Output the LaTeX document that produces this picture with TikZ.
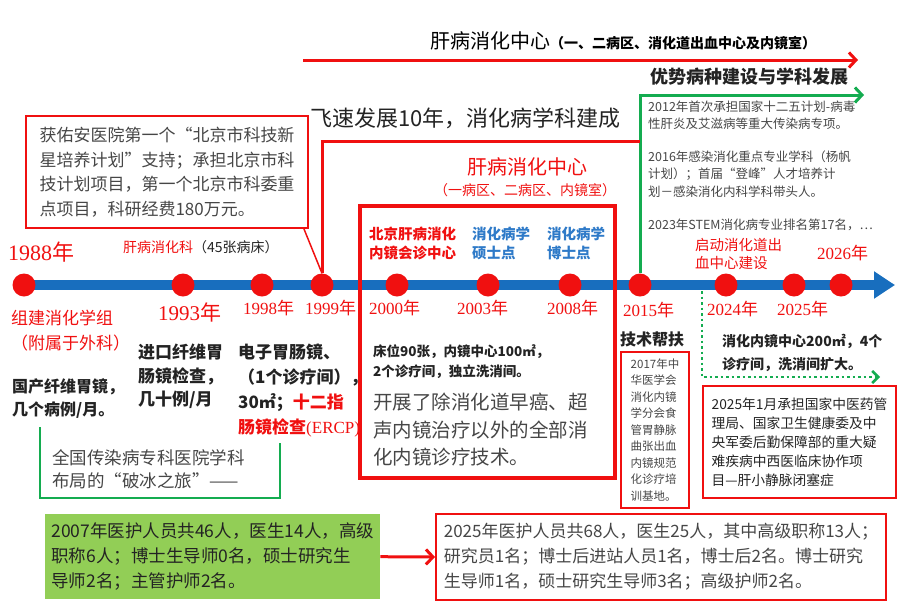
\documentclass[tikz,border=0pt]{standalone}
\usepackage{fontspec}
\setmainfont{Noto Sans CJK SC}
\newfontfamily\lser{Liberation Serif}
\usetikzlibrary{arrows.meta}
\definecolor{rd}{RGB}{240,16,16}
\definecolor{tl}{RGB}{24,110,190}
\definecolor{gn}{RGB}{20,172,80}
\definecolor{lg}{RGB}{146,206,86}
\definecolor{bl}{RGB}{46,122,200}
\definecolor{gy}{RGB}{70,70,70}
\definecolor{dk}{RGB}{35,35,35}
\newcommand\fs[2]{\fontsize{#1pt}{#2pt}\selectfont}
\newcommand\yr[1]{{\lser #1}年}
\begin{document}
\begin{tikzpicture}[x=1pt,y=-1pt,
  lbl/.style={inner sep=0pt,anchor=west},
  blk/.style={inner sep=0pt,anchor=north west,align=left},
  yrlab/.style={inner sep=0pt,anchor=west,text=rd},
  dot/.style={circle,fill=rd,inner sep=0pt,minimum width=23pt},
  boxr/.style={draw=rd,line width=2pt,inner sep=0pt,anchor=north west,align=left},
  barb/.style={-{Straight Barb[length=7pt,width=15pt]}}]
\useasboundingbox (0,0) rectangle (900,603);

% ---------- top red arrow and title
\node[lbl] (title) at (430,41) {\fs{20}{24}肝病消化中心\fs{14}{16}\bfseries （一、二病区、消化道出血中心及内镜室）};
\coordinate (ra1) at (303,60);
\coordinate (ra2) at (858,60);
\draw[rd,line width=3pt,barb] (ra1) -- (ra2);

\node[lbl,font=\fs{18}{22}\bfseries,text=dk] (adv) at (650,77) {优势病种建设与学科发展};

% ---------- timeline
\coordinate (ts) at (24,285);
\coordinate (te) at (895,285);
\draw[tl,line width=10pt,-{Triangle[length=21pt,width=26pt]}] (ts) -- (te);

\node[dot] (d1988) at (24,285) {};
\node[dot] (d1993) at (183,285) {};
\node[dot] (d1998) at (262,285) {};
\node[dot] (d1999) at (322,285) {};
\node[dot] (d2000) at (397,285) {};
\node[dot] (d2003) at (488,285) {};
\node[dot] (d2008) at (570,285) {};
\node[dot] (d2015) at (640,285) {};
\node[dot] (d2024) at (726,285) {};
\node[dot] (d2025) at (794,285) {};
\node[dot] (d2026) at (841,285) {};

% ---------- connectors above timeline
\coordinate (gtop) at (864,95);
\draw[gn,line width=3pt,barb] (d2015.north) |- (gtop);
\coordinate (rc) at (322,141);
\draw[rd,line width=3pt] (d1999.north) -- (rc) -- (d2015.north |- rc);

\node[lbl,font=\fs{22}{26},text=dk] (fast) at (310,118) {飞速发展10年，消化病学科建成};

% ---------- callout box
\node[boxr,minimum width=282pt,minimum height=112pt,font=\fs{17}{24.5},text=gy,align=left] (cb) at (25,115)
 {获佑安医院第一个“北京市科技新\\星培养计划”支持；承担北京市科\\技计划项目，第一个北京市科委重\\点项目，科研经费180万元。};
\draw[rd,line width=1.5pt] ([xshift=-5pt]cb.south east) -- (d1999.north);

% ---------- year labels
\node[yrlab,font=\fs{22}{26}] (y1988) at (8,252) {\yr{1988}};
\node[yrlab,font=\fs{21}{25}] (y1993) at (158,312) {\yr{1993}};
\node[yrlab,font=\fs{17}{20}] (y1998) at (243,308) {\yr{1998}};
\node[yrlab,font=\fs{17}{20}] (y1999) at (305,308) {\yr{1999}};
\node[yrlab,font=\fs{17}{20}] (y2000) at (369,308) {\yr{2000}};
\node[yrlab,font=\fs{17}{20}] (y2003) at (457,308) {\yr{2003}};
\node[yrlab,font=\fs{17}{20}] (y2008) at (547,308) {\yr{2008}};
\node[yrlab,font=\fs{17}{20}] (y2015) at (623,310) {\yr{2015}};
\node[yrlab,font=\fs{17}{20}] (y2024) at (707,309) {\yr{2024}};
\node[yrlab,font=\fs{17}{20}] (y2025) at (777,309) {\yr{2025}};
\node[yrlab,font=\fs{17}{20}] (y2026) at (817,253) {\yr{2026}};

% ---------- left labels
\node[lbl,font=\fs{14}{17}] (dept) at (123,247) {\textcolor{rd}{肝病消化科}\textcolor{dk}{（45张病床）}};
\node[blk,font=\fs{17}{25},text=rd] (grp) at (11,310) {组建消化学组\\（附属于外科）};
\node[blk,font=\fs{16}{23}\bfseries,text=dk] (l88) at (12,378) {国产纤维胃镜，\\几个病例/月。};
\node[blk,font=\fs{17}{23.5}\bfseries,text=dk] (l93) at (138,344) {进口纤维胃\\肠镜检查，\\几十例/月};
\node[blk,font=\fs{17}{25}\bfseries,text=dk] (l98) at (238,344) {电子胃肠镜、\\（1个诊疗间），\\30㎡；\textcolor{rd}{十二指}\\\textcolor{rd}{肠镜检查{\lser\mdseries (ERCP)}}};

% ---------- green bracket
\coordinate (gb1) at (40,427);
\coordinate (gb2) at (280,443);
\coordinate (gbb) at (0,498);
\draw[gn,line width=2pt] (gb1) -- (gb1 |- gbb) -- (gb2 |- gbb) -- (gb2);
\node[blk,font=\fs{17.5}{23},text=gy] (ice) at (52,449) {全国传染病专科医院学科\\布局的“破冰之旅”——};

% ---------- bottom boxes
\node[fill=lg,inner sep=0pt,minimum width=335pt,minimum height=85pt,anchor=north west,align=left,font=\fs{17.5}{25},text=dk] (gbox) at (45,514)
 {2007年医护人员共46人，医生14人，高级\\职称6人；博士生导师0名，硕士研究生\\导师2名；主管护师2名。};
\node[boxr,minimum width=450pt,minimum height=86pt,font=\fs{17}{25},text=gy] (rbox) at (435,513)
 {2025年医护人员共68人，医生25人，其中高级职称13人；\\研究员1名；博士后进站人员1名，博士后2名。博士研究\\生导师1名，硕士研究生导师3名；高级护师2名。};
\draw[rd,line width=3pt,barb] (gbox.east) -- (rbox.west);

% ---------- big red box
\node[lbl,anchor=center,font=\fs{20}{24},text=rd] (ctr) at (527,167) {肝病消化中心};
\node[lbl,anchor=center,font=\fs{14}{17},text=rd] (ctr2) at (525,190) {（一病区、二病区、内镜室）};
\node[draw=rd,line width=4pt,inner sep=0pt,minimum width=255pt,minimum height=272pt,anchor=north west] (big) at (358,204) {};
\node[blk,font=\fs{14.5}{19}\bfseries,text=rd] (bj) at (369,226.5) {北京肝病消化\\内镜会诊中心};
\node[blk,font=\fs{14.5}{19}\bfseries,text=bl] (ms) at (472,226.5) {消化病学\\硕士点};
\node[blk,font=\fs{14.5}{19}\bfseries,text=bl] (phd) at (547,226.5) {消化病学\\博士点};
\node[blk,font=\fs{13.5}{20}\bfseries,text=dk] (bed) at (373,344) {床位90张，内镜中心100㎡，\\2个诊疗间，独立洗消间。};
\node[blk,font=\fs{19.5}{27.5},text=gy] (tech) at (373,393) {开展了除消化道早癌、超\\声内镜治疗以外的全部消\\化内镜诊疗技术。};

% ---------- right green region texts
\node[blk,font=\fs{12.5}{17.5},text=gy] (g12) at (648,100.5) {2012年首次承担国家十二五计划-病毒\\性肝炎及艾滋病等重大传染病专项。};
\node[blk,font=\fs{12.5}{17.5},text=gy] (g16) at (648,150.5) {2016年感染消化重点专业学科（杨帆\\计划）；首届“登峰”人才培养计\\划－感染消化内科学科带头人。};
\node[blk,font=\fs{12.5}{17.5},text=gy] (g23) at (648,218.5) {2023年STEM消化病专业排名第17名，…};

% ---------- 2015 tech support
\node[lbl,font=\fs{16}{20}\bfseries,text=dk] (help) at (620,339) {技术帮扶};
\node[boxr,minimum width=68pt,minimum height=156pt,font=\fs{11.5}{16.5},text=gy] (nbox) at (620,351)
 {2017年中\\华医学会\\消化内镜\\学分会食\\管胃静脉\\曲张出血\\内镜规范\\化诊疗培\\训基地。};

% ---------- 2024 region
\node[blk,font=\fs{14.5}{18},text=rd] (bleed) at (695,238.5) {启动消化道出\\血中心建设};
\node[blk,font=\fs{14}{23}\bfseries,text=dk] (endo) at (722,333.7) {消化内镜中心200㎡，4个\\诊疗间，洗消间扩大。};
\coordinate (gd0) at (702,291);
\coordinate (gd1) at (880,377);
\draw[gn,line width=2.5pt,dash pattern=on 2.5pt off 3pt,-{Straight Barb[length=6pt,width=12pt]}] (gd0) |- (gd1);
\node[boxr,minimum width=193pt,minimum height=112pt,font=\fs{13.75}{19},text=dk] (rbox2) at (702,385)
 {2025年1月承担国家中医药管\\理局、国家卫生健康委及中\\央军委后勤保障部的重大疑\\难疾病中西医临床协作项\\目—肝小静脉闭塞症};
\end{tikzpicture}
\end{document}
